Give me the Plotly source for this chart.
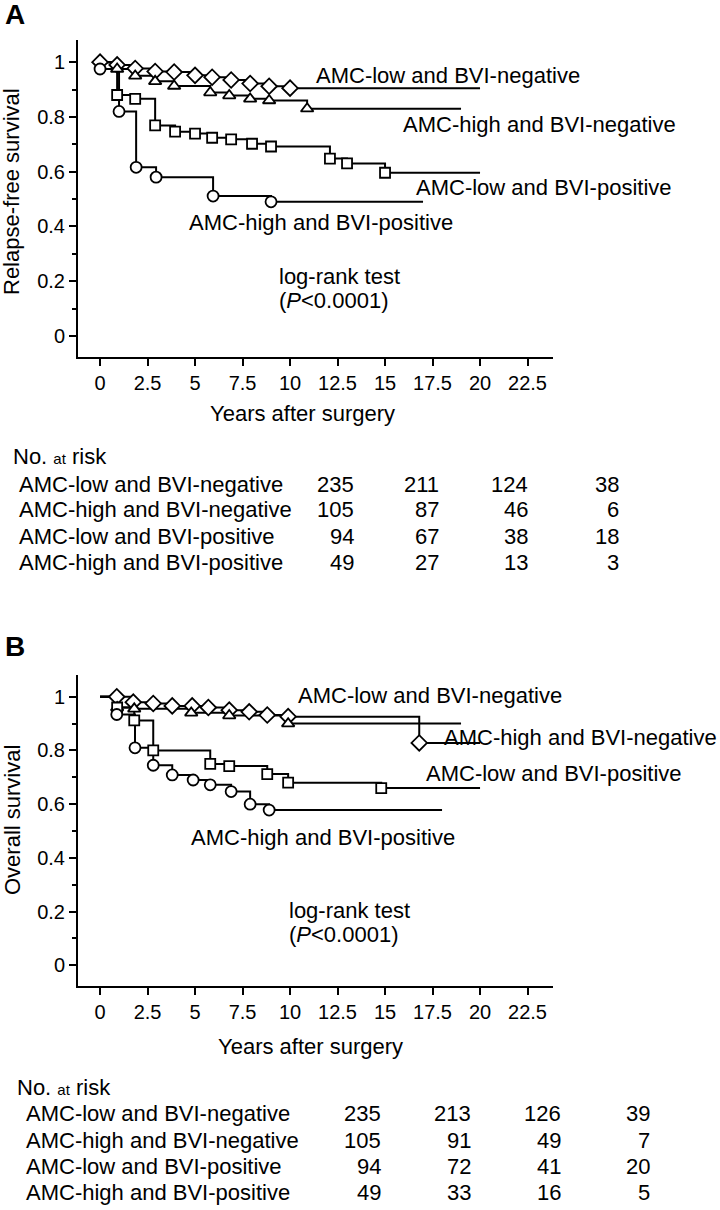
import plotly.graph_objects as go

W, H = 720, 1210
FONT = "Liberation Sans, Arial, Helvetica, sans-serif"

groups = ["AMC-low and BVI-negative", "AMC-high and BVI-negative",
          "AMC-low and BVI-positive", "AMC-high and BVI-positive"]
symbols = ["diamond", "triangle-up", "square", "circle"]
marker_sizes = [12, 11, 10, 11]

# ---------- Panel A: relapse-free survival ----------
rfs_low_neg_t = [0, 0.9, 1.85, 2.9, 3.9, 5.0, 5.9, 6.9, 7.9, 8.9, 10.0]
rfs_low_neg_s = [1.0, 0.99, 0.977, 0.966, 0.964, 0.952, 0.945, 0.935, 0.922, 0.912, 0.905]
rfs_high_neg_t = [0.9, 1.85, 2.9, 3.9, 5.8, 6.8, 7.9, 8.9, 10.9]
rfs_high_neg_s = [0.975, 0.95, 0.93, 0.913, 0.889, 0.878, 0.866, 0.86, 0.83]
rfs_low_pos_t = [0.9, 1.85, 2.9, 3.95, 5.0, 5.9, 6.9, 8.0, 9.0, 12.1, 13.0, 15.0]
rfs_low_pos_s = [0.88, 0.866, 0.769, 0.746, 0.739, 0.724, 0.718, 0.702, 0.692, 0.648, 0.63, 0.596]
rfs_high_pos_t = [0, 1.0, 1.9, 2.95, 5.95, 9.0]
rfs_high_pos_s = [0.975, 0.82, 0.616, 0.58, 0.511, 0.49]
rfs_end_t = [20, 19, 20, 17]

# ---------- Panel B: overall survival ----------
os_low_neg_t = [0.88, 1.75, 2.8, 3.8, 4.85, 5.7, 6.8, 7.85, 8.8, 9.9, 16.8]
os_low_neg_s = [1.0, 0.98, 0.975, 0.966, 0.966, 0.96, 0.95, 0.944, 0.932, 0.926, 0.828]
os_high_neg_t = [0.9, 1.8, 4.8, 6.8, 9.9]
os_high_neg_s = [0.96, 0.955, 0.94, 0.93, 0.90]
os_low_pos_t = [0.9, 1.8, 2.8, 5.8, 6.8, 8.8, 9.9, 14.8]
os_low_pos_s = [0.96, 0.912, 0.80, 0.75, 0.742, 0.712, 0.68, 0.66]
os_high_pos_t = [0.88, 1.84, 2.8, 3.8, 4.9, 5.8, 6.9, 7.9, 8.9]
os_high_pos_s = [0.934, 0.81, 0.745, 0.709, 0.69, 0.672, 0.647, 0.60, 0.578]
os_end_t = [20, 19, 20, 18]

# ---------- Numbers at risk ----------
rfs_at_risk = [[235, 211, 124, 38], [105, 87, 46, 6], [94, 67, 38, 18], [49, 27, 13, 3]]
os_at_risk = [[235, 213, 126, 39], [105, 91, 49, 7], [94, 72, 41, 20], [49, 33, 16, 5]]

x_ticks = [0, 2.5, 5, 7.5, 10, 12.5, 15, 17.5, 20, 22.5]
y_ticks = [0, 0.2, 0.4, 0.6, 0.8, 1]

panelA = [(rfs_low_neg_t, rfs_low_neg_s), (rfs_high_neg_t, rfs_high_neg_s),
          (rfs_low_pos_t, rfs_low_pos_s), (rfs_high_pos_t, rfs_high_pos_s)]
panelB = [(os_low_neg_t, os_low_neg_s), (os_high_neg_t, os_high_neg_s),
          (os_low_pos_t, os_low_pos_s), (os_high_pos_t, os_high_pos_s)]

fig = go.Figure()


def add_panel(series, ends, xa, ya):
    for i, (t, s) in enumerate(series):
        xs = [0] + list(t) + [ends[i]]
        ys = [1.0] + list(s) + [s[-1]]
        fig.add_trace(go.Scatter(x=xs, y=ys, mode="lines", line=dict(color="black", width=2, shape="hv"),
                                 xaxis=xa, yaxis=ya, showlegend=False, hoverinfo="skip"))
    for i, (t, s) in enumerate(series):
        fig.add_trace(go.Scatter(x=t, y=s, mode="markers",
                                 marker=dict(symbol=symbols[i], size=marker_sizes[i], color="white",
                                             line=dict(color="black", width=1.8)),
                                 xaxis=xa, yaxis=ya, showlegend=False, name=groups[i]))


add_panel(panelA, rfs_end_t, "x", "y")
add_panel(panelB, os_end_t, "x2", "y2")


def px(x):
    return x / W


def py(y):
    return 1 - y / H


axis_common = dict(showline=True, linecolor="black", linewidth=2, showgrid=False, zeroline=False,
                   ticks="outside", tickcolor="black", tickwidth=1.5, ticklen=7,
                   tickfont=dict(family=FONT, size=20, color="black"))
xr = [-1.16, 23.84]
yr = [-0.077, 1.081]
xdom = [px(78), px(553)]

fig.update_layout(
    width=W, height=H, margin=dict(l=0, r=0, t=0, b=0),
    paper_bgcolor="white", plot_bgcolor="white",
    font=dict(family=FONT, color="black"),
    xaxis=dict(domain=xdom, range=xr, tickvals=x_ticks, ticktext=[f"{v:g}" for v in x_ticks],
               anchor="y", **axis_common),
    yaxis=dict(domain=[py(357), py(40)], range=yr, tickvals=y_ticks, ticktext=[f"{v:g}" for v in y_ticks],
               anchor="x", minor=dict(tickvals=[0.1, 0.3, 0.5, 0.7, 0.9], ticks="outside", ticklen=4,
                                      tickcolor="black", tickwidth=1.5), **axis_common),
    xaxis2=dict(domain=xdom, range=xr, tickvals=x_ticks, ticktext=[f"{v:g}" for v in x_ticks],
                anchor="y2", **axis_common),
    yaxis2=dict(domain=[py(986), py(675)], range=yr, tickvals=y_ticks, ticktext=[f"{v:g}" for v in y_ticks],
                anchor="x2", minor=dict(tickvals=[0.1, 0.3, 0.5, 0.7, 0.9], ticks="outside", ticklen=4,
                                        tickcolor="black", tickwidth=1.5), **axis_common),
)

anns = []


def ann(text, x, y, size=22, xanchor="left", **kw):
    anns.append(dict(text=text, x=px(x), y=py(y), xref="paper", yref="paper", xanchor=xanchor,
                     yanchor="middle", showarrow=False,
                     font=dict(size=size, family=FONT, color="black"), **kw))


# Panel letters
ann("<b>A</b>", 3, 15, size=28)
ann("<b>B</b>", 3, 647, size=28)

# Axis titles
ann("Relapse-free survival", 12, 192, xanchor="center", textangle=-90)
ann("Overall survival", 12, 820, xanchor="center", textangle=-90)
ann("Years after surgery", 302, 413, xanchor="center")
ann("Years after surgery", 310, 1046, xanchor="center")

# Curve labels panel A
ann(groups[0], 314, 75)
ann(groups[1], 401, 125)
ann(groups[2], 414, 187)
ann(groups[3], 187, 222)
ann("log-rank test", 277, 277)
ann("(<i>P</i>&lt;0.0001)", 277, 300)

# Curve labels panel B
ann(groups[0], 296, 695)
ann(groups[1], 442, 737)
ann(groups[2], 424, 773)
ann(groups[3], 189, 837)
ann("log-rank test", 287, 910)
ann("(<i>P</i>&lt;0.0001)", 287, 934)

# Number at risk tables
ann("No. <span style='font-size:15px'>at</span> risk", 11, 457)
rowsA = [484, 510, 537, 563]
colsA = [356, 441, 530, 621]
for r, g in enumerate(groups):
    ann(g, 17, rowsA[r])
    for c, v in enumerate(rfs_at_risk[r]):
        ann(str(v), colsA[c], rowsA[r], xanchor="right")

ann("No. <span style='font-size:15px'>at</span> risk", 15, 1087)
rowsB = [1113, 1140, 1166, 1192]
colsB = [383, 473, 563, 652]
for r, g in enumerate(groups):
    ann(g, 24, rowsB[r])
    for c, v in enumerate(os_at_risk[r]):
        ann(str(v), colsB[c], rowsB[r], xanchor="right")

fig.update_layout(annotations=anns)
fig.write_html("out.html", config={"displayModeBar": False},
               post_script="document.body.style.margin='0px';")
